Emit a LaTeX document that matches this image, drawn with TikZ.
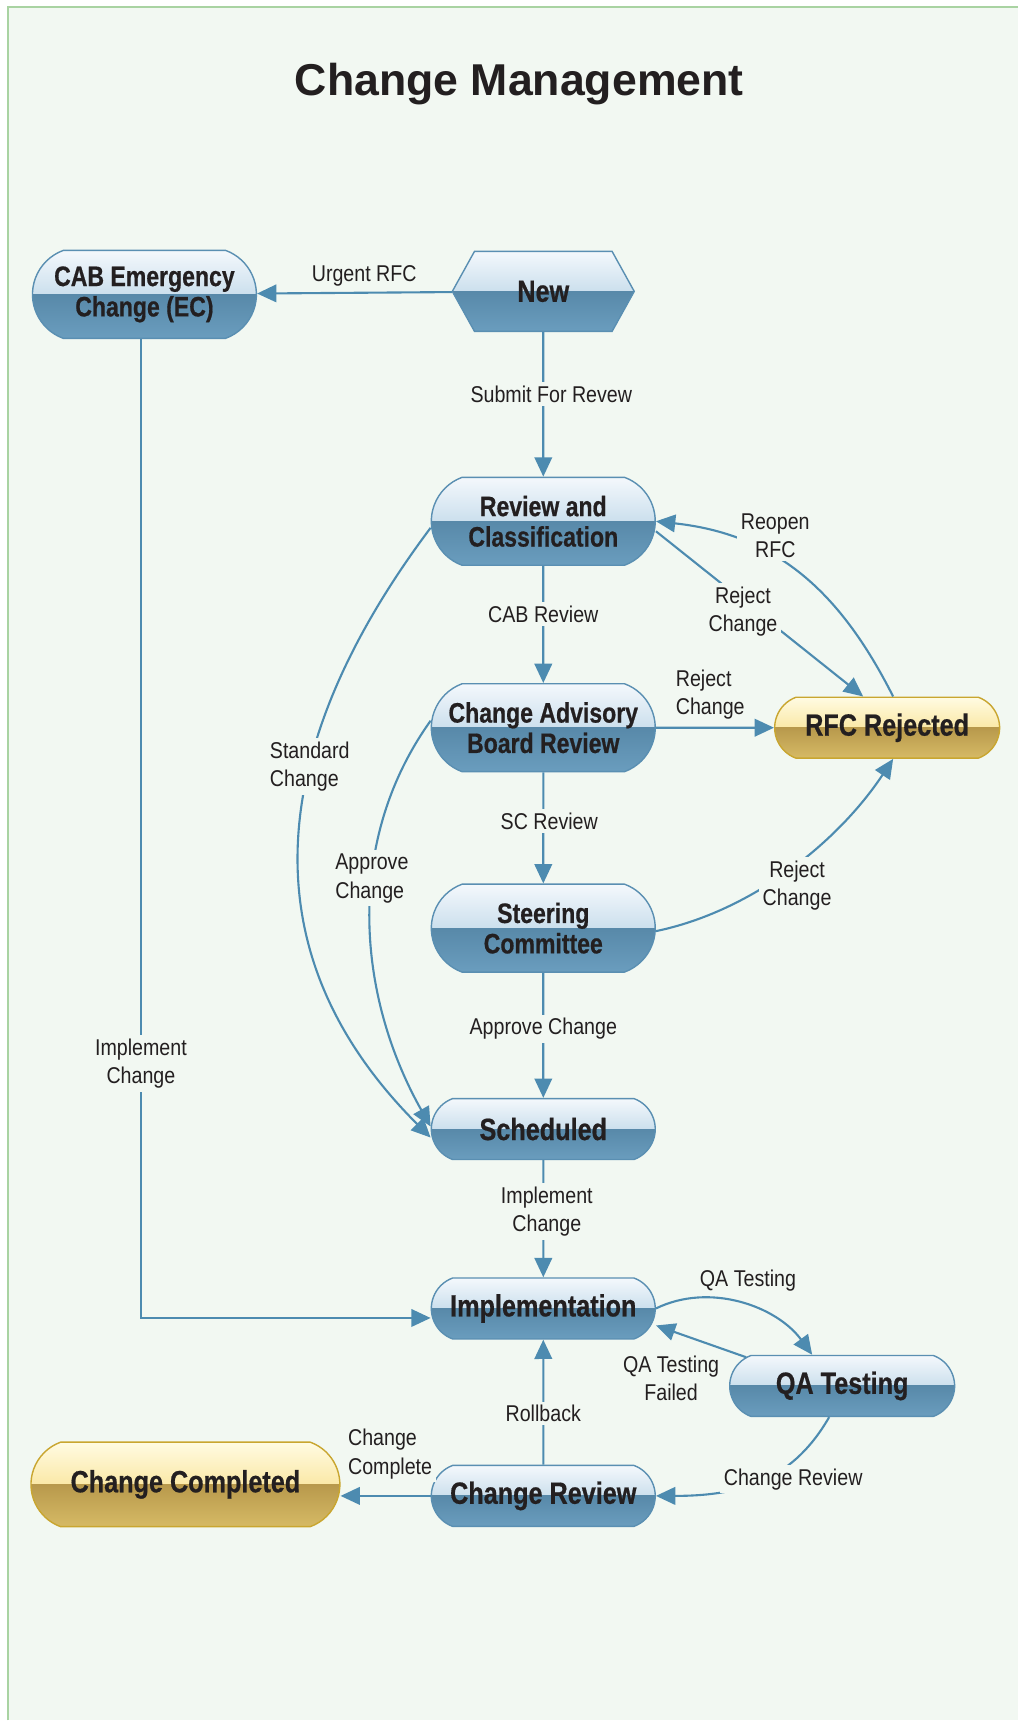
\documentclass[tikz,border=0pt]{standalone}
\usepackage{fontspec}
\usepackage{xcolor}
\usepackage{tikz}
\usetikzlibrary{arrows.meta}
\usetikzlibrary{calc}
\usetikzlibrary{positioning}
\usetikzlibrary{shapes.misc}
\usetikzlibrary{shapes.symbols}

\setmainfont{Liberation Sans}
\newfontfamily\boxfont[FakeStretch=0.82,BoldFeatures={FakeBold=0.6}]{Liberation Sans}
\newfontfamily\lblfont[FakeStretch=0.86]{Liberation Sans}

\definecolor{bg}{HTML}{F2F8F2}
\definecolor{frame}{HTML}{A9D3A2}
\definecolor{flowc}{HTML}{4D8BB0}
\definecolor{blueline}{HTML}{5A8FB2}
\definecolor{bluetop}{HTML}{F4F8FC}
\definecolor{bluemid}{HTML}{A3C7DE}
\definecolor{bluelow}{HTML}{5889A9}
\definecolor{bluebot}{HTML}{6A9DBE}
\definecolor{goldline}{HTML}{C9A630}
\definecolor{goldtop}{HTML}{FFFBE2}
\definecolor{goldmid}{HTML}{F6D66C}
\definecolor{goldlow}{HTML}{B8994C}
\definecolor{goldbot}{HTML}{D6BA65}
\definecolor{ink}{HTML}{231F20}

\begin{document}
\begin{tikzpicture}[
    flow/.style={-{Triangle[length=11pt,width=10pt,fill=flowc]},draw=flowc,line width=1.2pt},
    two tone/.style={path picture={
        \fill[top color=#1top,bottom color=#1mid] (path picture bounding box.north west) rectangle (path picture bounding box.east);
        \fill[top color=#1low,bottom color=#1bot] (path picture bounding box.west) rectangle (path picture bounding box.south east);}},
    state/.style={rounded rectangle,rounded rectangle arc length=140,draw=blueline,line width=0.8pt,
        minimum width=4.48cm,minimum height=1.22cm,inner sep=0pt,align=center,text=ink,
        font=\boxfont\bfseries\fontsize{17.5}{17.3}\selectfont,two tone=blue},
    twoline/.style={minimum height=1.76cm,font=\boxfont\bfseries\fontsize{16}{17.3}\selectfont},
    goal/.style={state,draw=goldline,two tone=gold},
    newbox/.style={signal,signal to=east and west,signal pointer angle=122,draw=blueline,line width=0.8pt,
        minimum width=3.64cm,minimum height=1.6cm,inner sep=0pt,text=ink,
        font=\boxfont\bfseries\fontsize{17.5}{17.3}\selectfont,two tone=blue},
    lbl/.style={font=\lblfont\fontsize{13}{16.2}\selectfont,text=ink,fill=bg,inner sep=2pt,align=center}]

    % background
    \fill[bg] (0.16,-0.14) rectangle (20.36,-34.42);
    \draw[frame,line width=0.8pt] (0.16,-34.42) -- (0.16,-0.14) -- (20.36,-0.14);
    \useasboundingbox (0,0) rectangle (20.36,-34.42);

    \node[font=\bfseries\fontsize{25.4}{30}\selectfont,text=ink] (title) at (10.39,-1.68) {Change Management};

    \node[newbox] (new) at (10.87,-5.83) {New};
    \node[state,twoline,on grid,below left=0.06cm and 7.98cm of new] (cabec) {CAB Emergency\\Change (EC)};
    \node[state,twoline,on grid,below=4.6cm of new] (review) {Review and\\Classification};
    \node[state,twoline,on grid,below=4.13cm of review] (cabr) {Change Advisory\\Board Review};
    \node[goal,on grid,right=6.88cm of cabr,minimum width=4.5cm] (rfc) {RFC Rejected};
    \node[state,twoline,on grid,below=4.01cm of cabr] (steer) {Steering\\Committee};
    \node[state,on grid,below=4.02cm of steer] (sched) {Scheduled};
    \node[state,on grid,below=3.59cm of sched] (impl) {Implementation};
    \node[state,on grid,below right=1.55cm and 5.98cm of impl,minimum width=4.5cm] (qa) {QA Testing};
    \node[state,on grid,below=3.75cm of impl] (crev) {Change Review};
    \node[goal,on grid,above left=0.23cm and 7.16cm of crev,minimum width=6.18cm,minimum height=1.69cm] (ccomp) {Change Completed};

    \path[every edge/.append style={flow}]
        (new) edge node[lbl,above,pos=.45,yshift=1pt] {Urgent RFC} (cabec)
        (new) edge node[lbl,pos=.43,xshift=0.16cm] {Submit For Revew} (review)
        (review) edge node[lbl,pos=.41] {CAB Review} (cabr)
        (cabr) edge node[lbl,pos=.44,xshift=0.12cm] {SC Review} (steer)
        (steer) edge node[lbl,pos=.45] {Approve Change} (sched)
        (sched) edge node[lbl,pos=.44,xshift=0.07cm] {Implement\\Change} (impl)
        (crev) edge node[lbl,pos=.41] {Rollback} (impl)
        (cabr) edge node[lbl,above,align=left,pos=.46,yshift=2pt] {Reject\\Change} (rfc)
        ([yshift=-0.2cm]review.east) edge node[lbl,pos=.42,yshift=-0.22cm] {Reject\\Change} ([xshift=-0.48cm]rfc.north)
        ([xshift=-1.92cm,yshift=-0.05cm]qa.north) edge node[lbl,pos=.5,xshift=-0.6cm,yshift=-0.74cm] {QA Testing\\Failed} ([yshift=-0.34cm]impl.east);

    \draw[flow] ([xshift=-0.07cm]cabec.south) |- node[lbl,pos=.37] {Implement\\Change} ([yshift=-0.19cm]impl.west);

    \draw[flow] (crev.west) -- node[lbl,above,align=left,pos=.45,yshift=0.25cm] {Change\\Complete} (ccomp.east |- crev.west);

    \draw[flow] ([xshift=0.12cm]rfc.north) .. controls +(-1.08,2.14) and +(2.38,-0.26) ..
        node[lbl,pos=.6,yshift=0.44cm] {Reopen\\RFC} (review.east);

    \draw[flow] ([yshift=-0.06cm]steer.east) .. controls +(1.93,0.4) and +(-1.1,-1.66) ..
        node[lbl,pos=.5,xshift=0.14cm,yshift=-0.34cm] {Reject\\Change} ([xshift=0.12cm]rfc.south);

    \draw[flow] ([yshift=-0.13cm]review.west) .. controls +(-3.48,-4.64) and +(-3.53,3.53) ..
        node[lbl,pos=.36,align=left] {Standard\\Change} ([yshift=-0.17cm]sched.west);

    \draw[flow] ([yshift=0.14cm]cabr.west) .. controls +(-1.74,-2.43) and +(-1.47,2.61) ..
        node[lbl,pos=.4,align=left] {Approve\\Change} ([yshift=0.05cm]sched.west);

    \draw[flow] (impl.east) .. controls +(1.08,0.53) and +(-0.71,0.97) ..
        node[lbl,pos=.5,xshift=0.14cm,yshift=0.46cm] {QA Testing} ([xshift=-0.6cm]qa.north);

    \draw[flow] ([xshift=-0.26cm]qa.south) .. controls +(-0.7,-1.21) and +(1.8,0) ..
        node[lbl,pos=.5,xshift=0.6cm] {Change Review} (crev.east);

\end{tikzpicture}
\end{document}
